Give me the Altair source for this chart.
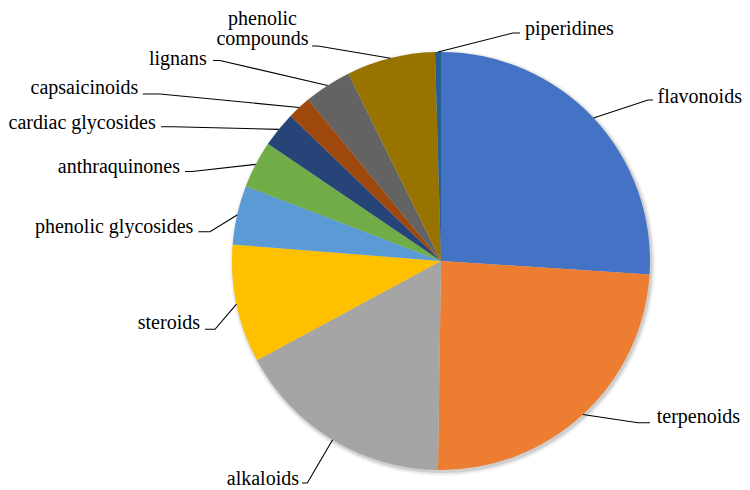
import altair as alt
import numpy as np
import pandas as pd

# ---------------- data ----------------
categories = ["flavonoids", "terpenoids", "alkaloids", "steroids",
              "phenolic glycosides", "anthraquinones", "cardiac glycosides",
              "capsaicinoids", "lignans", "phenolic compounds", "piperidines"]
counts = [57, 53, 37, 20, 10, 8, 6, 4, 8, 15, 1]
display_lines = [["flavonoids"], ["terpenoids"], ["alkaloids"], ["steroids"],
                 ["phenolic  glycosides"], ["anthraquinones"], ["cardiac glycosides"],
                 ["capsaicinoids"], ["lignans"], ["phenolic", "compounds"], ["piperidines"]]
colors = ["#4472C4", "#ED7D31", "#A5A5A5", "#FFC000", "#5B9BD5", "#70AD47",
          "#264478", "#9E480E", "#636363", "#997300", "#255E91"]

# ---------------- layout (pixels, relative to pie centre) ----------------
W, H = 734, 482
CX, CY, R = 433, 253, 209
FONT = "Liberation Serif"
FS = 20
LINE_H = 20

# text anchor, alignment, leader elbow, end x of horizontal tail
layout = {
    "piperidines":         dict(text=(84, -231.7), align="left", elbow=(72, -228), end=79),
    "flavonoids":          dict(text=(216.5, -164.3), align="left", elbow=(207, -161), end=212),
    "terpenoids":          dict(text=(215.7, 155.7), align="left", elbow=(197, 161.7), end=209),
    "alkaloids":           dict(text=(-142, 218), align="right", elbow=(-133.7, 222), end=-139),
    "steroids":            dict(text=(-241, 62.3), align="right", elbow=(-226, 68.3), end=-236),
    "phenolic glycosides": dict(text=(-247.7, -33.7), align="right", elbow=(-231, -29.3), end=-242.7),
    "anthraquinones":      dict(text=(-261, -93.7), align="right", elbow=(-249, -89.5), end=-256),
    "cardiac glycosides":  dict(text=(-285.3, -138.3), align="right", elbow=(-268, -134.3), end=-280),
    "capsaicinoids":       dict(text=(-302.7, -172.7), align="right", elbow=(-281, -167), end=-298.3),
    "lignans":             dict(text=(-234.3, -201.7), align="right", elbow=(-221, -200.5), end=-228),
    "phenolic compounds":  dict(text=(-178.5, -242), align="center", elbow=(-123, -215), end=-129),
}

pie_df = pd.DataFrame({"category": categories, "count": counts,
                       "order": list(range(len(categories)))})

total = float(sum(counts))
cum = np.concatenate([[0.0], np.cumsum(counts)])
mid = (cum[:-1] + cum[1:]) / 2.0 / total * 2 * np.pi

line_rows, text_rows = [], []
for i, cat in enumerate(categories):
    lay = layout[cat]
    ex = CX + R * np.sin(mid[i])
    ey = CY - R * np.cos(mid[i])
    bx, by = CX + lay["elbow"][0], CY + lay["elbow"][1]
    line_rows += [dict(cat=cat, seq=0, x=ex, y=ey),
                  dict(cat=cat, seq=1, x=bx, y=by),
                  dict(cat=cat, seq=2, x=CX + lay["end"], y=by)]
    for j, t in enumerate(display_lines[i]):
        text_rows.append(dict(text=t, x=CX + lay["text"][0],
                              y=CY + lay["text"][1] + j * LINE_H, align=lay["align"]))

line_df = pd.DataFrame(line_rows)
text_df = pd.DataFrame(text_rows)
one = pd.DataFrame({"k": [0]})

shadows = []
for dr, op in [(1, 0.10), (2.5, 0.06), (4, 0.035)]:
    shadows.append(
        alt.Chart(one).mark_arc(outerRadius=R + dr, theta=0, theta2=2 * np.pi,
                                color="#000000", opacity=op)
        .encode(x=alt.value(CX + 1.5), y=alt.value(CY + 2))
    )

pie = alt.Chart(pie_df).mark_arc(outerRadius=R, strokeWidth=0).encode(
    theta=alt.Theta("count:Q", stack=True),
    order=alt.Order("order:Q", sort="ascending"),
    color=alt.Color("category:N", scale=alt.Scale(domain=categories, range=colors), legend=None),
    x=alt.value(CX), y=alt.value(CY),
)

leaders = alt.Chart(line_df).mark_line(color="#000000", strokeWidth=1.1).encode(
    x=alt.X("x:Q", scale=None, axis=None),
    y=alt.Y("y:Q", scale=None, axis=None),
    detail="cat:N",
    order="seq:Q",
)

texts = []
for al in ["left", "right", "center"]:
    texts.append(
        alt.Chart(text_df).transform_filter(alt.datum.align == al)
        .mark_text(align=al, baseline="middle", font=FONT, fontSize=FS, color="#000000")
        .encode(x=alt.X("x:Q", scale=None, axis=None),
                y=alt.Y("y:Q", scale=None, axis=None),
                text="text:N")
    )

chart = alt.layer(*shadows, pie, leaders, *texts).properties(
    width=W, height=H, padding=0,
    autosize=alt.AutoSizeParams(type="none"),
    background="#FFFFFF",
).configure_view(strokeWidth=0)

chart.save("out.html", embed_options={"renderer": "svg", "actions": False})
